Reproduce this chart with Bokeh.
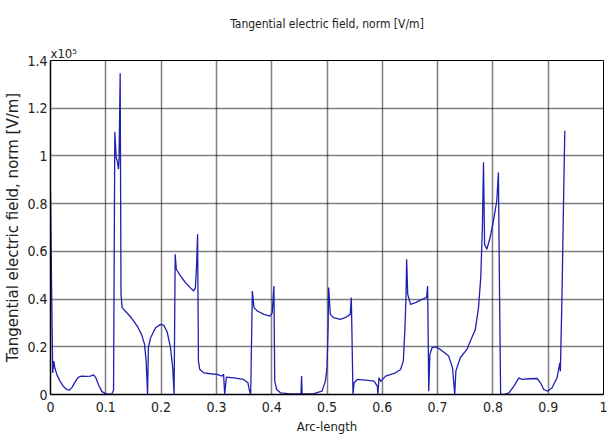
from bokeh.plotting import figure
from bokeh.models import FixedTicker, Title
from bokeh.embed import file_html
from bokeh.resources import INLINE

# Arc-length and tangential E-field (units of 1e5 V/m)
arc_length = [
    0.000, 0.002, 0.004, 0.006, 0.008, 0.012, 0.018, 0.024, 0.030, 0.034,
    0.039, 0.045, 0.050, 0.056, 0.064, 0.072, 0.078, 0.082, 0.087, 0.093,
    0.100, 0.106, 0.111, 0.114, 0.1163, 0.1187, 0.121, 0.123, 0.124, 0.126,
    0.1275, 0.1295, 0.135, 0.143, 0.150, 0.158, 0.165, 0.170, 0.173, 0.1755,
    0.177, 0.181, 0.190, 0.199, 0.205, 0.211, 0.217, 0.221, 0.2235, 0.2255,
    0.2275, 0.235, 0.244, 0.253, 0.259, 0.262, 0.264, 0.266, 0.2675, 0.270,
    0.277, 0.289, 0.301, 0.310, 0.313, 0.315, 0.318, 0.331, 0.349, 0.357,
    0.360, 0.362, 0.365, 0.368, 0.374, 0.386, 0.397, 0.401, 0.404, 0.4055,
    0.409, 0.416, 0.434, 0.453, 0.454, 0.455, 0.476, 0.491, 0.497, 0.500,
    0.502, 0.503, 0.506, 0.512, 0.524, 0.533, 0.542, 0.544, 0.547, 0.549,
    0.555, 0.570, 0.585, 0.591, 0.592, 0.594, 0.597, 0.606, 0.624, 0.633,
    0.638, 0.641, 0.643, 0.644, 0.646, 0.651, 0.660, 0.672, 0.680, 0.682,
    0.684, 0.686, 0.690, 0.696, 0.705, 0.720, 0.727, 0.731, 0.733, 0.741,
    0.753, 0.760, 0.768, 0.774, 0.778, 0.781, 0.783, 0.785, 0.789, 0.795,
    0.801, 0.807, 0.810, 0.812, 0.814, 0.820, 0.829, 0.838, 0.847, 0.853,
    0.865, 0.880, 0.886, 0.892, 0.899, 0.907, 0.916, 0.921, 0.922, 0.925,
    0.928, 0.930,
]
e_field = [
    0.85, 0.45, 0.09, 0.14, 0.11, 0.08, 0.053, 0.032, 0.020, 0.018,
    0.030, 0.055, 0.072, 0.077, 0.076, 0.077, 0.082, 0.070, 0.040, 0.012,
    0.004, 0.001, 0.003, 0.018, 1.10, 0.995, 0.975, 0.945, 0.99, 1.347,
    0.42, 0.364, 0.350, 0.330, 0.310, 0.282, 0.250, 0.210, 0.140, 0.0,
    0.196, 0.238, 0.280, 0.294, 0.290, 0.262, 0.196, 0.112, 0.0, 0.588,
    0.525, 0.497, 0.469, 0.447, 0.434, 0.448, 0.532, 0.672, 0.140, 0.105,
    0.091, 0.087, 0.084, 0.077, 0.085, 0.0, 0.073, 0.070, 0.063, 0.049,
    0.014, 0.0, 0.434, 0.364, 0.350, 0.336, 0.329, 0.343, 0.455, 0.056,
    0.021, 0.007, 0.003, 0.003, 0.077, 0.003, 0.004, 0.014, 0.056, 0.112,
    0.280, 0.448, 0.336, 0.322, 0.315, 0.322, 0.336, 0.406, 0.0, 0.049,
    0.063, 0.060, 0.056, 0.035, 0.0, 0.070, 0.055, 0.077, 0.091, 0.105,
    0.140, 0.280, 0.420, 0.567, 0.420, 0.378, 0.385, 0.399, 0.406, 0.455,
    0.014, 0.168, 0.196, 0.200, 0.189, 0.161, 0.112, 0.0, 0.098, 0.154,
    0.189, 0.228, 0.270, 0.364, 0.490, 0.700, 0.973, 0.630, 0.609, 0.658,
    0.728, 0.812, 0.931, 0.420, 0.0, 0.0, 0.007, 0.035, 0.070, 0.063,
    0.066, 0.067, 0.049, 0.021, 0.014, 0.028, 0.070, 0.133, 0.098, 0.420,
    0.840, 1.106,
]

x_ticks = [0, 0.1, 0.2, 0.3, 0.4, 0.5, 0.6, 0.7, 0.8, 0.9, 1.0]
x_tick_labels = ["0", "0.1", "0.2", "0.3", "0.4", "0.5", "0.6", "0.7", "0.8", "0.9", "1"]
y_ticks = [0, 0.2, 0.4, 0.6, 0.8, 1.0, 1.2, 1.4]
y_tick_labels = ["0", "0.2", "0.4", "0.6", "0.8", "1", "1.2", "1.4"]

HFONT = "DejaVu Sans Condensed, Liberation Sans Narrow, DejaVu Sans"

p = figure(
    width=613, height=439,
    min_border_left=50, min_border_right=10, min_border_top=60, min_border_bottom=45,
    x_range=(0, 1), y_range=(0, 1.4),
    output_backend="svg", toolbar_location=None,
    title="Tangential electric field, norm [V/m]",
)
p.background_fill_color = "white"
p.border_fill_color = "white"
p.outline_line_color = "black"
p.outline_line_width = 1

p.title.align = "center"
p.title.text_font = HFONT
p.title.text_font_size = "12px"
p.title.text_font_style = "normal"
p.title.text_color = "#222222"
p.title.standoff = 26

# exponent marker above the y axis
p.add_layout(Title(text="x10⁵", align="left", text_font=HFONT,
                   text_font_size="13px", text_font_style="normal",
                   text_color="#222222", standoff=0), "above")

p.line(arc_length, e_field, line_color="#2020b0", line_width=1.3)

for ax in (p.xaxis[0], p.yaxis[0]):
    ax.major_tick_in = 0
    ax.major_tick_out = 0
    ax.minor_tick_in = 0
    ax.minor_tick_out = 0
    ax.axis_line_color = "black"
    ax.axis_line_width = 1.5
    ax.major_label_text_font = HFONT
    ax.major_label_text_font_size = "14px"
    ax.major_label_text_color = "#222222"
    ax.axis_label_text_font_style = "normal"
    ax.axis_label_text_color = "#222222"

p.xaxis.ticker = FixedTicker(ticks=x_ticks)
p.xaxis.major_label_overrides = {t: l for t, l in zip(x_ticks, x_tick_labels)}
p.yaxis.ticker = FixedTicker(ticks=y_ticks)
p.yaxis.major_label_overrides = {t: l for t, l in zip(y_ticks, y_tick_labels)}

p.xaxis.axis_label = "Arc-length"
p.xaxis.axis_label_text_font = HFONT
p.xaxis.axis_label_text_font_size = "13px"
p.xaxis.axis_label_standoff = 4
p.xaxis.major_label_standoff = 7

p.yaxis.axis_label = "Tangential electric field, norm [V/m]"
p.yaxis.axis_label_text_font = "DejaVu Sans"
p.yaxis.axis_label_text_font_size = "15px"
p.yaxis.axis_label_standoff = 2
p.yaxis.major_label_standoff = 3

p.grid.grid_line_color = "black"
p.grid.grid_line_dash = "1 1"
p.grid.grid_line_width = 1.5

open("out.html", "w").write(file_html(p, INLINE))
